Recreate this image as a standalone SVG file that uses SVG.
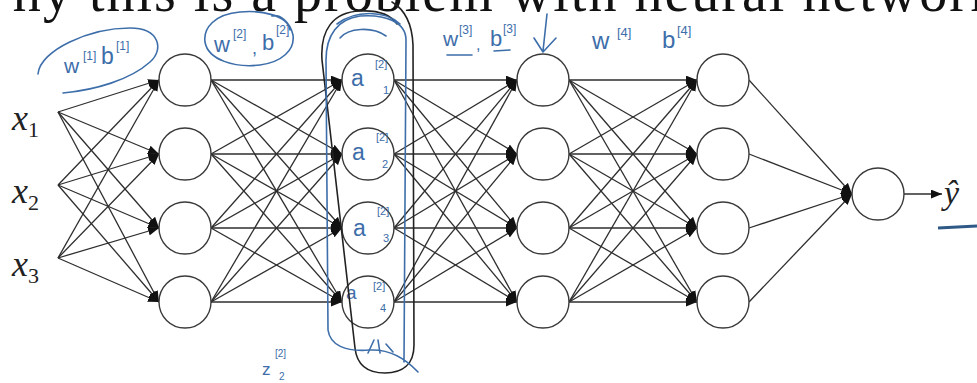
<svg xmlns="http://www.w3.org/2000/svg" width="977" height="383" viewBox="0 0 977 383">
<defs>
<marker id="ah" viewBox="0 0 10 8" refX="10" refY="4" markerWidth="11" markerHeight="9" markerUnits="userSpaceOnUse" orient="auto"><path d="M0,0 L10,4 L0,8 z" fill="#111"/></marker>
<style>
.e{stroke:#2e2e2e;stroke-width:1.3;fill:none;marker-end:url(#ah)}
.n{fill:#fff;stroke:#3a3a3a;stroke-width:1.4}
.ink{fill:none;stroke:#3d6eaa;stroke-width:1.6;stroke-linecap:round;stroke-linejoin:round}
.pen{fill:none;stroke:#222;stroke-width:1.6;stroke-linecap:round}
.hw{font-family:"Liberation Sans","DejaVu Sans",sans-serif;fill:#3d6eaa}
.m{font-family:"Liberation Serif",serif;font-style:italic;fill:#222}
.t{font-family:"Liberation Serif",serif;fill:#111;font-size:56px}
</style>
</defs>
<rect width="977" height="383" fill="#fff"/>
<text class="t" x="-42" y="11" textLength="1040" lengthAdjust="spacing">Why this is a problem with neural network</text>
<g id="connectors">
<path class="e" d="M58,112 L159,80"/><path class="e" d="M58,112 L159,154"/><path class="e" d="M58,112 L159,228"/><path class="e" d="M58,112 L159,302"/>
<path class="e" d="M58,185 L159,80"/><path class="e" d="M58,185 L159,154"/><path class="e" d="M58,185 L159,228"/><path class="e" d="M58,185 L159,302"/>
<path class="e" d="M58,258 L159,80"/><path class="e" d="M58,258 L159,154"/><path class="e" d="M58,258 L159,228"/><path class="e" d="M58,258 L159,302"/>
<path class="e" d="M211,80 L342,80"/><path class="e" d="M211,80 L342,154"/><path class="e" d="M211,80 L342,228"/><path class="e" d="M211,80 L342,302"/>
<path class="e" d="M211,154 L342,80"/><path class="e" d="M211,154 L342,154"/><path class="e" d="M211,154 L342,228"/><path class="e" d="M211,154 L342,302"/>
<path class="e" d="M211,228 L342,80"/><path class="e" d="M211,228 L342,154"/><path class="e" d="M211,228 L342,228"/><path class="e" d="M211,228 L342,302"/>
<path class="e" d="M211,302 L342,80"/><path class="e" d="M211,302 L342,154"/><path class="e" d="M211,302 L342,228"/><path class="e" d="M211,302 L342,302"/>
<path class="e" d="M394,80 L517,80"/><path class="e" d="M394,80 L517,154"/><path class="e" d="M394,80 L517,228"/><path class="e" d="M394,80 L517,302"/>
<path class="e" d="M394,154 L517,80"/><path class="e" d="M394,154 L517,154"/><path class="e" d="M394,154 L517,228"/><path class="e" d="M394,154 L517,302"/>
<path class="e" d="M394,228 L517,80"/><path class="e" d="M394,228 L517,154"/><path class="e" d="M394,228 L517,228"/><path class="e" d="M394,228 L517,302"/>
<path class="e" d="M394,302 L517,80"/><path class="e" d="M394,302 L517,154"/><path class="e" d="M394,302 L517,228"/><path class="e" d="M394,302 L517,302"/>
<path class="e" d="M569,80 L697,80"/><path class="e" d="M569,80 L697,154"/><path class="e" d="M569,80 L697,228"/><path class="e" d="M569,80 L697,302"/>
<path class="e" d="M569,154 L697,80"/><path class="e" d="M569,154 L697,154"/><path class="e" d="M569,154 L697,228"/><path class="e" d="M569,154 L697,302"/>
<path class="e" d="M569,228 L697,80"/><path class="e" d="M569,228 L697,154"/><path class="e" d="M569,228 L697,228"/><path class="e" d="M569,228 L697,302"/>
<path class="e" d="M569,302 L697,80"/><path class="e" d="M569,302 L697,154"/><path class="e" d="M569,302 L697,228"/><path class="e" d="M569,302 L697,302"/>
<path class="e" d="M749,80 L852,194"/><path class="e" d="M749,154 L852,194"/><path class="e" d="M749,228 L852,194"/><path class="e" d="M749,302 L852,194"/>
<path class="e" d="M904,194 L942,194"/>
</g>
<g id="x1"><text class="m" x="12" y="130" font-size="36">x<tspan font-size="22" font-style="normal" dy="7">1</tspan></text></g>
<g id="x2"><text class="m" x="12" y="203" font-size="36">x<tspan font-size="22" font-style="normal" dy="7">2</tspan></text></g>
<g id="x3"><text class="m" x="12" y="276" font-size="36">x<tspan font-size="22" font-style="normal" dy="7">3</tspan></text></g>
<g id="h1_1"><circle class="n" cx="185" cy="80" r="26"/></g>
<g id="h1_2"><circle class="n" cx="185" cy="154" r="26"/></g>
<g id="h1_3"><circle class="n" cx="185" cy="228" r="26"/></g>
<g id="h1_4"><circle class="n" cx="185" cy="302" r="26"/></g>
<g id="h2_1"><circle class="n" cx="368" cy="80" r="26"/></g>
<g id="h2_2"><circle class="n" cx="368" cy="154" r="26"/></g>
<g id="h2_3"><circle class="n" cx="368" cy="228" r="26"/></g>
<g id="h2_4"><circle class="n" cx="368" cy="302" r="26"/></g>
<g id="h3_1"><circle class="n" cx="543" cy="80" r="26"/></g>
<g id="h3_2"><circle class="n" cx="543" cy="154" r="26"/></g>
<g id="h3_3"><circle class="n" cx="543" cy="228" r="26"/></g>
<g id="h3_4"><circle class="n" cx="543" cy="302" r="26"/></g>
<g id="h4_1"><circle class="n" cx="723" cy="80" r="26"/></g>
<g id="h4_2"><circle class="n" cx="723" cy="154" r="26"/></g>
<g id="h4_3"><circle class="n" cx="723" cy="228" r="26"/></g>
<g id="h4_4"><circle class="n" cx="723" cy="302" r="26"/></g>
<g id="out"><circle class="n" cx="878" cy="194" r="26"/></g>
<g id="yhat"><text class="m" x="944" y="204" font-size="34">ŷ</text><path d="M938,228 L977,226" stroke="#2f5a88" stroke-width="3" fill="none"/></g>
<g id="annotations">
<path class="ink" d="M38,74 C40,50 90,28 130,28 C160,28 164,50 150,62 C130,80 95,90 63,93"/>
<text class="hw" x="64" y="73" font-size="21">w</text><text class="hw" x="83" y="60" font-size="12">[1]</text>
<text class="hw" x="101" y="64" font-size="23">b</text><text class="hw" x="116" y="50" font-size="12">[1]</text>
<path class="ink" d="M290,30 C288,15 260,10 240,12 C215,14 203,28 205,42 C208,60 235,68 260,65 C282,62 295,50 293,35 C290,22 280,14 272,16"/>
<text class="hw" x="214" y="52" font-size="22">w</text><text class="hw" x="233" y="38" font-size="12">[2]</text>
<text class="hw" x="252" y="54" font-size="18">,</text>
<text class="hw" x="262" y="50" font-size="22">b</text><text class="hw" x="276" y="34" font-size="12">[2]</text>
<text class="hw" x="443" y="46" font-size="21">w</text><text class="hw" x="459" y="34" font-size="12">[3]</text>
<text class="hw" x="476" y="50" font-size="16">,</text>
<text class="hw" x="490" y="46" font-size="22">b</text><text class="hw" x="503" y="33" font-size="12">[3]</text>
<path class="ink" d="M447,55 L472,55 M494,51 L510,50"/>
<path class="ink" d="M547,14 L543,51 M534,38 L543,52 L556,38"/>
<text class="hw" x="592" y="49" font-size="24">w</text><text class="hw" x="617" y="37" font-size="13">[4]</text>
<text class="hw" x="662" y="48" font-size="24">b</text><text class="hw" x="677" y="35" font-size="13">[4]</text>
<text class="hw" x="351" y="86" font-size="23">a</text><text class="hw" x="375" y="68" font-size="11">[2]</text><text class="hw" x="383" y="94" font-size="11">1</text>
<text class="hw" x="352" y="160" font-size="23">a</text><text class="hw" x="376" y="141" font-size="11">[2]</text><text class="hw" x="382" y="168" font-size="11">2</text>
<text class="hw" x="353" y="236" font-size="23">a</text><text class="hw" x="377" y="215" font-size="11">[2]</text><text class="hw" x="383" y="242" font-size="11">3</text>
<text class="hw" x="346" y="299" font-size="19">a</text><text class="hw" x="373" y="290" font-size="11">[2]</text><text class="hw" x="380" y="312" font-size="11">4</text>
<text class="hw" x="262" y="375" font-size="17">z</text><text class="hw" x="275" y="357" font-size="10">[2]</text><text class="hw" x="279" y="380" font-size="10">2</text>
<path class="pen" d="M392,2 C402,8 412,20 413,45 L414,345 C414,365 402,373 385,373 C368,373 357,366 355,348 L322,60 C320,30 333,12 360,11 C378,10 390,14 397,24"/>
<path class="ink" d="M404,362 L406,40 C406,22 385,14 360,16 C338,19 326,35 326,60 L328,330 C330,345 345,352 370,350 C390,349 405,358 418,372"/>
<path class="ink" d="M340,38 C348,28 372,26 386,36 M337,24 C355,10 385,10 400,24"/>
<path class="ink" d="M368,353 L374,340 M380,353 L378,340 M386,344 L393,352"/>
</g>
</svg>
